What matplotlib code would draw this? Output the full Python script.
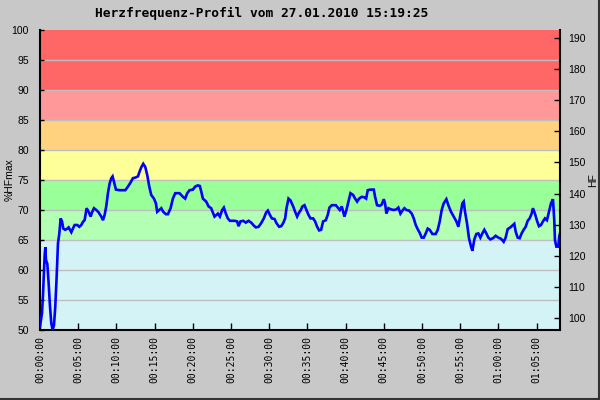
import matplotlib
matplotlib.use('Agg')
import matplotlib.pyplot as plt
from matplotlib.lines import Line2D

# ---- data (time in minutes, %HFmax) ----
time_min = [0, 0.26, 0.39, 0.61, 0.70, 0.78, 0.96, 1.13, 1.31, 1.48, 1.66, 1.83, 2.00, 2.18, 2.35,
            2.53, 2.70, 2.88, 3.05, 3.31, 3.57, 3.75, 3.92, 4.10, 4.27, 4.53, 4.88, 5.14, 5.40, 5.67,
            5.84, 6.10, 6.36, 6.63, 6.80, 7.06, 7.37, 7.67, 8.02, 8.24, 8.46, 8.67, 8.89, 9.11, 9.33,
            9.50, 9.68, 9.94, 10.42, 11.16, 11.51, 11.86, 12.16, 12.47, 12.82, 13.03, 13.25, 13.51,
            13.77, 14.04, 14.30, 14.56, 14.91, 15.17, 15.34, 15.60, 15.87, 16.13, 16.48, 16.74, 17.09,
            17.39, 17.70, 18.26, 18.70, 19.00, 19.27, 19.57, 20.01, 20.31, 20.66, 20.92, 21.10, 21.32,
            21.75, 22.06, 22.40, 22.58, 22.84, 23.10, 23.28, 23.54, 23.84, 24.06, 24.32, 24.58, 24.85,
            25.46, 25.80, 25.98, 26.24, 26.59, 26.94, 27.29, 27.64, 27.98, 28.25, 28.60, 28.94, 29.29,
            29.60, 29.82, 30.08, 30.34, 30.69, 30.95, 31.30, 31.56, 31.82, 32.08, 32.26, 32.52, 32.78,
            33.13, 33.39, 33.65, 33.91, 34.09, 34.35, 34.61, 34.87, 35.13, 35.40, 35.74, 36.00, 36.27,
            36.53, 36.79, 37.05, 37.40, 37.66, 37.88, 38.18, 38.71, 38.97, 39.23, 39.49, 39.67, 39.84,
            40.10, 40.36, 40.63, 40.98, 41.24, 41.50, 41.76, 42.11, 42.46, 42.68, 42.89, 43.24, 43.68,
            43.85, 44.11, 44.46, 44.72, 44.99, 45.16, 45.33, 45.59, 45.94, 46.29, 46.64, 46.90, 47.17,
            47.43, 47.69, 47.95, 48.30, 48.65, 48.91, 49.17, 49.43, 49.69, 49.95, 50.22, 50.48, 50.74,
            51.00, 51.35, 51.78, 52.05, 52.31, 52.57, 52.83, 53.18, 53.44, 53.79, 54.14, 54.49, 54.75,
            55.01, 55.27, 55.45, 55.62, 55.88, 56.14, 56.41, 56.58, 56.84, 57.10, 57.36, 57.63, 57.89,
            58.15, 58.41, 58.67, 58.93, 59.28, 59.63, 59.98, 60.33, 60.68, 60.94, 61.20, 61.55, 61.90,
            62.07, 62.25, 62.51, 62.77, 63.03, 63.29, 63.56, 63.82, 64.08, 64.34, 64.51, 64.77, 65.04,
            65.30, 65.56, 65.82, 66.08, 66.34, 66.61, 66.87, 67.13, 67.30, 67.39, 67.57, 67.82, 67.95,
            68.05]
hf_pct = [50.6, 52.8, 55.8, 62.5, 63.8, 61.7, 61.0, 57.8, 53.9, 51.1, 50.0, 50.8, 53.9, 58.9, 64.4,
          66.1, 68.6, 68.1, 66.9, 66.7, 66.9, 67.1, 66.7, 66.3, 66.8, 67.5, 67.5, 67.2, 67.5, 68.1,
          68.3, 70.3, 69.7, 68.9, 69.6, 70.3, 70.0, 69.6, 68.9, 68.3, 69.2, 70.6, 72.8, 74.4, 75.3,
          75.6, 74.7, 73.4, 73.3, 73.3, 73.9, 74.6, 75.3, 75.4, 75.6, 76.4, 77.1, 77.7,
          77.2, 75.8, 73.9, 72.5, 71.9, 71.1, 69.7, 70.0, 70.3, 69.7, 69.3, 69.3, 70.3,
          71.9, 72.8, 72.8, 72.2, 71.9, 72.8, 73.3, 73.4, 73.9, 74.1, 74.0, 73.1, 71.9,
          71.4, 70.6, 70.3, 69.7, 68.9, 69.2, 69.4, 68.9, 70.0, 70.4, 69.4, 68.6, 68.2,
          68.2, 68.1, 67.3, 68.1, 68.2, 67.9, 68.2, 67.9, 67.4, 67.1, 67.2, 67.8, 68.6,
          69.6, 69.9, 69.2, 68.6, 68.5, 67.8, 67.2, 67.3, 67.8, 68.6, 70.3, 71.9, 71.6,
          70.6, 69.7, 68.9, 69.6, 69.9, 70.6, 70.8, 70.0, 69.2, 68.6, 68.6, 68.1, 67.2,
          66.6, 66.7, 68.1, 68.3, 69.2, 70.4, 70.8, 70.8, 70.4, 70.0, 70.6, 69.7, 68.9,
          70.0, 71.4, 72.8, 72.5, 71.9, 71.4, 71.9, 72.2, 72.1, 71.9, 73.3, 73.4, 73.4,
          72.2, 70.8, 70.7, 70.9, 71.8, 71.1, 69.4, 70.3, 70.1, 70.0, 70.1, 70.4, 69.4,
          69.9, 70.3, 70.0, 69.9, 69.4, 68.6, 67.5, 66.8, 66.2, 65.4, 65.4, 66.1, 66.9,
          66.7, 66.0, 66.0, 66.7, 68.1, 70.0, 71.1, 71.8, 70.8, 69.7, 68.9, 68.1, 67.2,
          69.2, 71.1, 71.4, 69.7, 67.8, 65.3, 63.9, 63.2, 65.1, 66.0, 66.1, 65.4, 66.1,
          66.7, 66.1, 65.4, 65.1, 65.3, 65.7, 65.4, 65.2, 64.7, 65.4, 66.8, 67.1, 67.5,
          67.7, 66.4, 65.4, 65.3, 66.1, 66.7, 67.2, 68.2, 68.6, 69.4, 70.3, 69.4, 68.2,
          67.3, 67.5, 68.1, 68.6, 68.3, 69.7, 71.1, 71.8, 68.3, 65.0, 63.9, 63.9, 65.6,
          66.1]

zone_bounds = [50, 65, 70, 75, 80, 85, 90, 100]
zone_colors = ['#D3F3F7', '#B3FFB3', '#99FF99', '#FFFF99', '#FFD280', '#FF9999', '#FF6666']

x_tick_min = [0, 5, 10, 15, 20, 25, 30, 35, 40, 45, 50, 55, 60, 65]
x_tick_labels = ['00:00:00', '00:05:00', '00:10:00', '00:15:00', '00:20:00', '00:25:00',
                 '00:30:00', '00:35:00', '00:40:00', '00:45:00', '00:50:00', '00:55:00',
                 '01:00:00', '01:05:00']
left_ticks = [50, 55, 60, 65, 70, 75, 80, 85, 90, 95, 100]
right_ticks = [100, 110, 120, 130, 140, 150, 160, 170, 180, 190]
hf_max = 192.5

title = 'Herzfrequenz-Profil vom 27.01.2010 15:19:25'

# ---- figure ----
bg = '#C8C8C8'
fig = plt.figure(figsize=(6, 4), dpi=100, facecolor=bg)
ax = fig.add_axes([40/600, 70/400, 520/600, 300/400])

for lo, hi, c in zip(zone_bounds[:-1], zone_bounds[1:], zone_colors):
    ax.axhspan(lo, hi, color=c, lw=0, zorder=0)
for y in left_ticks[1:-1]:
    ax.axhline(y, color='#BEBEBE', lw=1.0, zorder=1)

ax.plot(time_min, hf_pct, color='#0000FF', lw=1.9, zorder=3, solid_joinstyle='miter')

ax.set_xlim(0, 68.05)
ax.set_ylim(50, 100)
ax.set_xticks(x_tick_min)
ax.set_xticklabels(x_tick_labels, rotation=90, fontfamily='DejaVu Sans Mono', fontsize=7)
ax.set_yticks(left_ticks)
ax.set_yticklabels([str(v) for v in left_ticks], fontfamily='Liberation Sans', fontsize=7.5)
ax.tick_params(axis='x', direction='in', length=5, width=1, pad=4, colors='black')
ax.tick_params(axis='y', direction='in', length=3, width=1, pad=8, colors='black')
for s in ['top']:
    ax.spines[s].set_visible(False)
for s in ['left', 'bottom']:
    ax.spines[s].set_linewidth(1.5)
ax.spines['right'].set_visible(False)

ax2 = ax.twinx()
ax2.set_ylim(hf_max / 2, hf_max)
ax2.set_yticks(right_ticks)
ax2.set_yticklabels([str(v) for v in right_ticks], fontfamily='Liberation Sans', fontsize=7.5)
ax2.tick_params(axis='y', direction='in', length=4, width=1, pad=6)
for s in ['top', 'left', 'bottom']:
    ax2.spines[s].set_visible(False)
ax2.spines['right'].set_linewidth(1.5)

fig.text(10/600, 1 - 180/400, '%HFmax', rotation=90, ha='center', va='center',
         fontfamily='Liberation Sans', fontsize=7.5)
fig.text(593/600, 1 - 180/400, 'HF', rotation=90, ha='center', va='center',
         fontfamily='Liberation Sans', fontsize=7.5)
fig.text(261.5/600, 1 - 13/400, title, ha='center', va='center',
         fontfamily='DejaVu Sans Mono', fontweight='bold', fontsize=9.3)

fig.add_artist(Line2D([0.999, 0.999], [0, 1], transform=fig.transFigure, color='#333333', lw=1.5))
fig.add_artist(Line2D([0, 1], [0.002, 0.002], transform=fig.transFigure, color='#333333', lw=1.5))

fig.savefig('out.png', dpi=100, facecolor=bg)
